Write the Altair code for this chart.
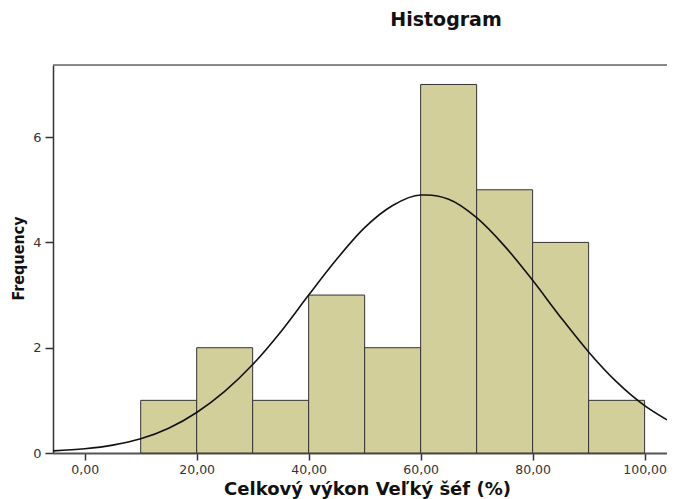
import altair as alt
import pandas as pd

# Histogram bins (lower edge, upper edge) and frequencies
bin_start = [10, 20, 30, 40, 50, 60, 70, 80, 90]
bin_end = [20, 30, 40, 50, 60, 70, 80, 90, 100]
freq = [1, 2, 1, 3, 2, 7, 5, 4, 1]

# Normal curve
curve_x = [-5.66, 0, 5, 10, 15, 20, 25, 30, 35, 40, 45, 50, 55, 60, 61,
           65, 70, 75, 80, 85, 90, 95, 100, 104]
curve_y = [0.04, 0.08, 0.15, 0.27, 0.47, 0.77, 1.17, 1.68, 2.3, 3.0, 3.68,
           4.28, 4.7, 4.9, 4.9, 4.82, 4.47, 3.93, 3.28, 2.58, 1.92, 1.35,
           0.9, 0.63]

x_ticks = [0, 20, 40, 60, 80, 100]
y_ticks = [0, 2, 4, 6]

chart_title = "Histogram"

bars_df = pd.DataFrame({"start": bin_start, "end": bin_end, "freq": freq})
curve_df = pd.DataFrame({"start": curve_x, "freq": curve_y})

W, H = 614, 388
FONT = "DejaVu Sans"

x_scale = alt.Scale(domain=[-5.66, 104], nice=False, zero=False)
y_scale = alt.Scale(domain=[0, 7.37], nice=False)

x_axis = alt.Axis(
    title="Celkový výkon Veľký šéf (%)",
    values=x_ticks,
    labelExpr="replace(format(datum.value, '.2f'), '.', ',')",
    grid=False,
    domainColor="#555555",
    domainWidth=2,
    tickColor="#333333",
    tickWidth=1.5,
    tickSize=7,
    labelPadding=3,
    labelFont=FONT,
    labelFontSize=12.5,
    labelColor="#333333",
    labelFlush=False,
    labelOverlap=False,
    titleFont=FONT,
    titleFontSize=18,
    titleFontWeight="bold",
    titleColor="#111111",
    titleBaseline="alphabetic",
    titleAlign="center",
    titleX=314,
    titleY=41,
)
y_axis = alt.Axis(
    title="Frequency",
    values=y_ticks,
    format="d",
    grid=False,
    domainColor="#333333",
    domainWidth=1.5,
    tickColor="#333333",
    tickWidth=1.5,
    tickSize=8,
    labelPadding=4,
    labelFont=FONT,
    labelFontSize=13,
    labelColor="#333333",
    titleFont="Liberation Sans Narrow, DejaVu Sans Condensed, DejaVu Sans",
    titleFontSize=16,
    titleFontWeight="bold",
    titleColor="#111111",
    titleAngle=270,
    titleBaseline="middle",
    titleX=-35,
    titleY=H / 2 - 1,
)

bars = alt.Chart(bars_df).mark_rect(
    fill="#d3cf9a", stroke="#333333", strokeWidth=1
).encode(
    x=alt.X("start:Q", scale=x_scale, axis=x_axis),
    x2="end:Q",
    y=alt.Y("freq:Q", scale=y_scale, axis=y_axis),
    y2=alt.datum(0),
)

curve = alt.Chart(curve_df).mark_line(
    color="#111111", strokeWidth=1.6, interpolate="monotone", clip=True
).encode(
    x=alt.X("start:Q", scale=x_scale, axis=x_axis),
    y=alt.Y("freq:Q", scale=y_scale, axis=y_axis),
)

top_border = alt.Chart(pd.DataFrame({"a": [0]})).mark_rule(
    color="#666666", strokeWidth=1.5
).encode(x=alt.value(0), x2=alt.value(W), y=alt.value(0))

title_text = alt.Chart(pd.DataFrame({"t": [chart_title]})).mark_text(
    font=FONT, fontSize=19, fontWeight="bold", color="#111111",
    align="center", baseline="alphabetic"
).encode(text="t:N", x=alt.value(393), y=alt.value(-39))

chart = alt.layer(bars, curve, top_border, title_text).properties(
    width=W,
    height=H,
    autosize=alt.AutoSizeParams(type="none"),
    padding={"left": 45, "top": 57, "right": 0, "bottom": 46},
).configure_view(stroke=None).configure(background="white")

chart.save("out.html", embed_options={"renderer": "svg", "actions": False})
